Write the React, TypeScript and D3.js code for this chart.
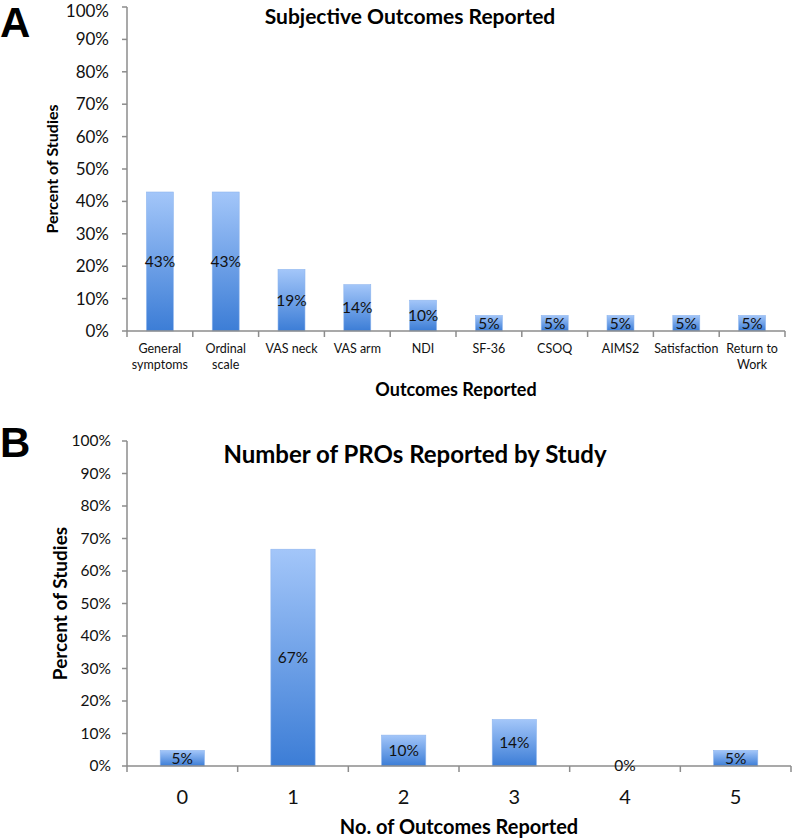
import React from "react";
import * as d3 from "d3";

const outcomesA = ["General|symptoms", "Ordinal|scale", "VAS neck", "VAS arm", "NDI", "SF-36", "CSOQ", "AIMS2", "Satisfaction", "Return to|Work"];
const valuesA = [42.9, 42.9, 19.0, 14.3, 9.5, 4.8, 4.8, 4.8, 4.8, 4.8];
const countsB = ["0", "1", "2", "3", "4", "5"];
const valuesB = [4.8, 66.7, 9.5, 14.3, 0, 4.8];
const yTicks = [0, 10, 20, 30, 40, 50, 60, 70, 80, 90, 100];

const FONT = "Lato, 'Open Sans', sans-serif";
const AXIS = "#8c8c8c";

type PanelProps = {
  id: string;
  letter: string;
  letterY: number;
  title: string;
  titleX: number;
  titleY: number;
  titleSize: number;
  xTitle: string;
  xTitleX: number;
  xTitleY: number;
  xTitleSize: number;
  yTitleX: number;
  yTitleSize: number;
  cats: string[];
  vals: number[];
  x0: number;
  x1: number;
  yTop: number;
  yBot: number;
  tickSize: number;
  tickGap: number;
  catSize: number;
  catY: number;
  catLine: number;
  labelSize: number;
  barFrac: number;
};

function Panel(p: PanelProps) {
  const x = d3.scaleBand<string>().domain(p.cats).range([p.x0, p.x1]).paddingInner(0).paddingOuter(0);
  const y = d3.scaleLinear().domain([0, 100]).range([p.yBot, p.yTop]);
  const bw = x.bandwidth() * p.barFrac;
  const gid = "grad-" + p.id;
  return (
    <g>
      <defs>
        <linearGradient id={gid} x1="0" y1="0" x2="0" y2="1">
          <stop offset="0%" stopColor="#a3c6f9" />
          <stop offset="100%" stopColor="#3c7dd6" />
        </linearGradient>
      </defs>
      <text x={0} y={p.letterY} fontFamily="Arial, 'Liberation Sans', sans-serif" fontWeight="bold" fontSize={42} fill="#000">{p.letter}</text>
      <text x={p.titleX} y={p.titleY} textAnchor="middle" fontFamily={FONT} fontWeight="bold" fontSize={p.titleSize} fill="#000">{p.title}</text>
      {/* y axis */}
      <line x1={p.x0} x2={p.x0} y1={p.yTop} y2={p.yBot} stroke={AXIS} strokeWidth={1.5} />
      {yTicks.map((t) => (
        <g key={"y" + t}>
          <line x1={p.x0 - 5} x2={p.x0} y1={y(t)} y2={y(t)} stroke={AXIS} strokeWidth={1.5} />
          <text x={p.x0 - p.tickGap} y={Math.max(y(t), p.tickSize * 0.62)} dy="0.35em" textAnchor="end" fontFamily={FONT} fontSize={p.tickSize} fill="#111">{t + "%"}</text>
        </g>
      ))}
      <text transform={`translate(${p.yTitleX},${(p.yTop + p.yBot) / 2}) rotate(-90)`} textAnchor="middle" fontFamily={FONT} fontWeight="bold" fontSize={p.yTitleSize} fill="#000">Percent of Studies</text>
      {/* bars */}
      {p.cats.map((c, i) => {
        const v = p.vals[i];
        const bx = (x(c) as number) + (x.bandwidth() - bw) / 2;
        return (
          <g key={"b" + i}>
            {v > 0 && <rect x={bx} y={y(v)} width={bw} height={p.yBot - y(v)} fill={`url(#${gid})`} stroke="#8fb6ee" strokeWidth={0.6} />}
          </g>
        );
      })}
      {/* x axis */}
      <line x1={p.x0} x2={p.x1} y1={p.yBot} y2={p.yBot} stroke={AXIS} strokeWidth={1.5} />
      {d3.range(p.cats.length + 1).map((i) => (
        <line key={"xt" + i} x1={p.x0 + i * x.bandwidth()} x2={p.x0 + i * x.bandwidth()} y1={p.yBot} y2={p.yBot + 6} stroke={AXIS} strokeWidth={1.5} />
      ))}
      {p.cats.map((c, i) => {
        const cx = (x(c) as number) + x.bandwidth() / 2;
        const v = p.vals[i];
        const ly = v > 0 ? (y(v) + p.yBot) / 2 : p.yBot;
        return (
          <g key={"l" + i}>
            <text x={cx} y={ly} dy="0.35em" textAnchor="middle" fontFamily={FONT} fontSize={p.labelSize} fill="#111">{Math.round(v) + "%"}</text>
            {c.split("|").map((ln, k) => (
              <text key={k} x={cx} y={p.catY + k * p.catLine} dy="0.35em" textAnchor="middle" fontFamily={FONT} fontSize={p.catSize} fill="#111">{ln}</text>
            ))}
          </g>
        );
      })}
      <text x={p.xTitleX} y={p.xTitleY} dy="0.35em" textAnchor="middle" fontFamily={FONT} fontWeight="bold" fontSize={p.xTitleSize} fill="#000">{p.xTitle}</text>
    </g>
  );
}

export default function App() {
  return (
    <svg width={792} height={838} style={{ position: "absolute", left: 0, top: 0, background: "#fff" }}>
      <Panel id="a" letter="A" letterY={37} title="Subjective Outcomes Reported" titleX={410} titleY={24} titleSize={21}
        xTitle="Outcomes Reported" xTitleX={456} xTitleY={390} xTitleSize={18} yTitleX={58} yTitleSize={16}
        cats={outcomesA} vals={valuesA} x0={127} x1={785} yTop={7} yBot={331}
        tickSize={17} tickGap={18} catSize={12.5} catY={349} catLine={15.5} labelSize={15.5} barFrac={0.41} />
      <Panel id="b" letter="B" letterY={457} title="Number of PROs Reported by Study" titleX={415} titleY={463} titleSize={24}
        xTitle="No. of Outcomes Reported" xTitleX={459} xTitleY={827} xTitleSize={20} yTitleX={67} yTitleSize={19}
        cats={countsB} vals={valuesB} x0={127} x1={791} yTop={441} yBot={766}
        tickSize={15.5} tickGap={16} catSize={20} catY={797} catLine={0} labelSize={15.5} barFrac={0.4} />
    </svg>
  );
}
